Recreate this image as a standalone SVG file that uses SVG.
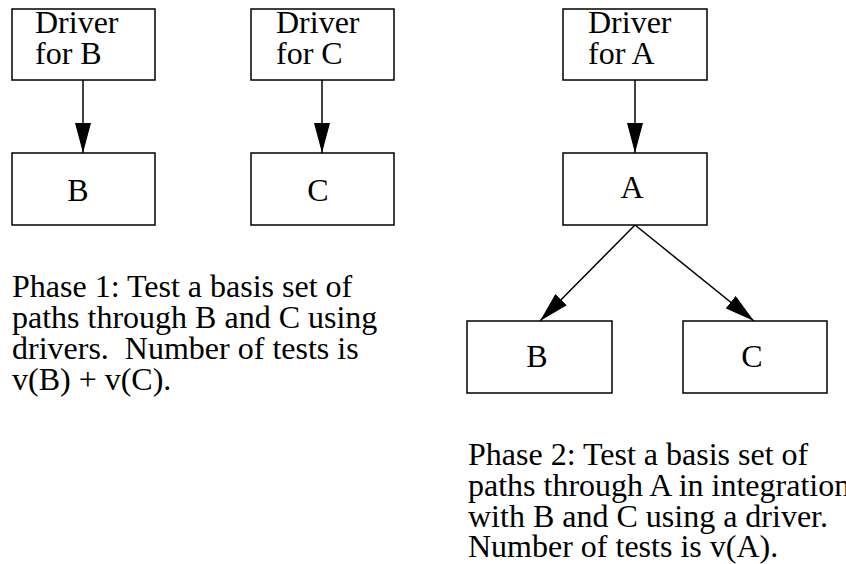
<svg xmlns="http://www.w3.org/2000/svg" width="846" height="564" viewBox="0 0 846 564">
  <style>
    .box { fill: #fff; stroke: #000; stroke-width: 1.5; }
    .edge { stroke: #000; stroke-width: 1.5; fill: none; }
    text { font-family: "Liberation Serif", "Times New Roman", serif; font-size: 32px; fill: #000; }
    .mid { text-anchor: middle; }
  </style>
  <defs>
    <!-- filled triangular head, 30 long and 16 wide, tip on the line end -->
    <marker id="arrow" markerWidth="30" markerHeight="16" refX="30" refY="8" viewBox="0 0 30 16" markerUnits="userSpaceOnUse" orient="auto">
      <path d="M0,0 L30,8 L0,16 Z" fill="#000"/>
    </marker>
  </defs>
  <rect width="846" height="564" fill="#fff"/>

  <g id="connectors">
    <line class="edge" x1="83" y1="80" x2="83" y2="153" marker-end="url(#arrow)"/>
    <line class="edge" x1="322" y1="80" x2="322" y2="153" marker-end="url(#arrow)"/>
    <line class="edge" x1="635" y1="80" x2="635" y2="153" marker-end="url(#arrow)"/>
    <line class="edge" x1="635" y1="225" x2="540" y2="321" marker-end="url(#arrow)"/>
    <line class="edge" x1="635" y1="225" x2="754" y2="321" marker-end="url(#arrow)"/>
  </g>

  <g id="driverB">
    <rect class="box" x="12" y="9" width="143" height="71"/>
    <text x="35" y="33">Driver</text>
    <text x="35" y="64">for B</text>
  </g>
  <g id="nodeB1">
    <rect class="box" x="12" y="153" width="143" height="72"/>
    <text class="mid" x="78" y="201">B</text>
  </g>
  <g id="driverC">
    <rect class="box" x="251" y="9" width="143" height="71"/>
    <text x="276" y="33">Driver</text>
    <text x="276" y="64">for C</text>
  </g>
  <g id="nodeC1">
    <rect class="box" x="251" y="153" width="143" height="72"/>
    <text class="mid" x="318" y="201">C</text>
  </g>

  <g id="driverA">
    <rect class="box" x="563" y="9" width="144" height="71"/>
    <text x="588" y="33">Driver</text>
    <text x="588" y="64">for A</text>
  </g>
  <g id="nodeA">
    <rect class="box" x="563" y="153" width="144" height="72"/>
    <text class="mid" x="632" y="198">A</text>
  </g>
  <g id="nodeB2">
    <rect class="box" x="467" y="321" width="145" height="72"/>
    <text class="mid" x="537" y="367">B</text>
  </g>
  <g id="nodeC2">
    <rect class="box" x="683" y="321" width="144" height="72"/>
    <text class="mid" x="752" y="367">C</text>
  </g>

  <g id="note1">
    <text x="12" y="297">Phase 1: Test a basis set of</text>
    <text x="12" y="328">paths through B and C using</text>
    <text x="12" y="359" xml:space="preserve">drivers.  Number of tests is</text>
    <text x="12" y="390">v(B) + v(C).</text>
  </g>
  <g id="note2">
    <text x="468" y="465">Phase 2: Test a basis set of</text>
    <text x="468" y="496">paths through A in integration</text>
    <text x="468" y="527">with B and C using a driver.</text>
    <text x="468" y="557">Number of tests is v(A).</text>
  </g>
</svg>
